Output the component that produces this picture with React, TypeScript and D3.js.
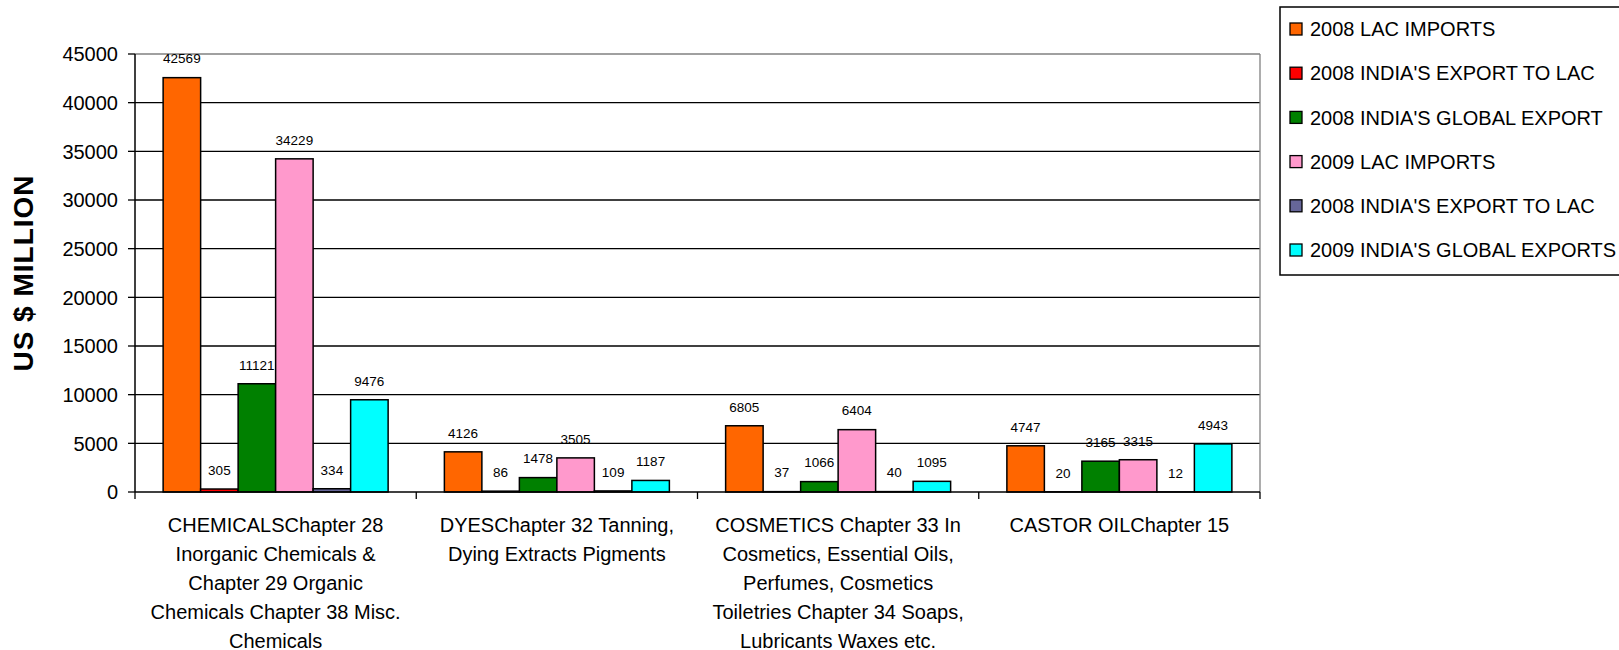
import React from "react";
import * as d3 from "d3";

const categories: string[][] = [
  ["CHEMICALSChapter 28", "Inorganic Chemicals &", "Chapter 29 Organic", "Chemicals Chapter 38 Misc.", "Chemicals"],
  ["DYESChapter 32 Tanning,", "Dying Extracts Pigments"],
  ["COSMETICS Chapter 33 In", "Cosmetics, Essential Oils,", "Perfumes, Cosmetics", "Toiletries Chapter 34 Soaps,", "Lubricants Waxes etc."],
  ["CASTOR OILChapter 15"],
];

const seriesNames = [
  "2008 LAC IMPORTS",
  "2008 INDIA'S EXPORT TO LAC",
  "2008 INDIA'S GLOBAL EXPORT",
  "2009 LAC IMPORTS",
  "2008 INDIA'S EXPORT TO LAC",
  "2009 INDIA'S GLOBAL EXPORTS",
];

const lacImports2008 = [42569, 4126, 6805, 4747];
const indiaExportLac2008 = [305, 86, 37, 20];
const indiaGlobal2008 = [11121, 1478, 1066, 3165];
const lacImports2009 = [34229, 3505, 6404, 3315];
const indiaExportLac2008b = [334, 109, 40, 12];
const indiaGlobal2009 = [9476, 1187, 1095, 4943];

const seriesValues = [
  lacImports2008,
  indiaExportLac2008,
  indiaGlobal2008,
  lacImports2009,
  indiaExportLac2008b,
  indiaGlobal2009,
];

const colors = ["#FF6600", "#FF0000", "#008000", "#FF99CC", "#666699", "#00FFFF"];

const yTicks = [0, 5000, 10000, 15000, 20000, 25000, 30000, 35000, 40000, 45000];

const FONT = "'Liberation Sans', Arial, sans-serif";

export default function App() {
  const W = 1619;
  const H = 650;
  const left = 135;
  const right = 1260;
  const top = 54;
  const bottom = 492;

  const y = d3.scaleLinear().domain([0, 45000]).range([bottom, top]);
  const x0 = d3
    .scaleBand<number>()
    .domain(categories.map((_, i) => i))
    .range([left, right])
    .paddingInner(0.2)
    .paddingOuter(0.1);
  const x1 = d3
    .scaleBand<number>()
    .domain(seriesNames.map((_, i) => i))
    .range([0, x0.bandwidth()])
    .padding(0);
  const step = x0.step();
  const catTicks = d3.range(categories.length + 1).map((i) => left + i * step);

  return (
    <svg
      width={W}
      height={H}
      style={{ position: "absolute", left: 0, top: 0, background: "#fff" }}
      fontFamily={FONT}
    >
      <rect x={0} y={0} width={W} height={H} fill="#fff" />
      {/* gridlines */}
      {yTicks.slice(1, -1).map((t) => (
        <line key={t} x1={left} x2={right} y1={y(t)} y2={y(t)} stroke="#000" strokeWidth={1.3} />
      ))}
      {/* plot border top & right */}
      <line x1={left} x2={right} y1={y(45000)} y2={y(45000)} stroke="#808080" strokeWidth={1.3} />
      <line x1={right} x2={right} y1={top} y2={bottom} stroke="#808080" strokeWidth={1.3} />

      {/* bars */}
      {seriesValues.map((vals, s) =>
        vals.map((v, c) => {
          const bx = (x0(c) as number) + (x1(s) as number);
          return (
            <rect
              key={`b${s}-${c}`}
              x={bx}
              y={y(v)}
              width={x1.bandwidth()}
              height={bottom - y(v)}
              fill={colors[s]}
              stroke="#000"
              strokeWidth={1.5}
            />
          );
        })
      )}

      {/* data labels */}
      {seriesValues.map((vals, s) =>
        vals.map((v, c) => {
          const cx = (x0(c) as number) + (x1(s) as number) + x1.bandwidth() / 2;
          return (
            <text
              key={`l${s}-${c}`}
              x={cx}
              y={y(v) - 19 + 4.8}
              textAnchor="middle"
              fontSize={13.5}
              fill="#000"
            >
              {v}
            </text>
          );
        })
      )}

      {/* y axis */}
      <line x1={left} x2={left} y1={top} y2={bottom} stroke="#000" strokeWidth={1.5} />
      {yTicks.map((t) => (
        <g key={`yt${t}`}>
          <line x1={left - 7} x2={left} y1={y(t)} y2={y(t)} stroke="#000" strokeWidth={1.3} />
          <text x={118} y={y(t)} dy="0.36em" textAnchor="end" fontSize={20} fill="#000">
            {t}
          </text>
        </g>
      ))}

      {/* x axis */}
      <line x1={left} x2={right} y1={bottom} y2={bottom} stroke="#000" strokeWidth={1.5} />
      {catTicks.map((tx, i) => (
        <line key={`xt${i}`} x1={tx} x2={tx} y1={bottom} y2={bottom + 7} stroke="#000" strokeWidth={1.3} />
      ))}
      {categories.map((lines, c) => {
        const cx = (x0(c) as number) + x0.bandwidth() / 2;
        return (
          <text key={`cat${c}`} textAnchor="middle" fontSize={20} fill="#000">
            {lines.map((ln, k) => (
              <tspan key={k} x={cx} y={531.5 + k * 29}>
                {ln}
              </tspan>
            ))}
          </text>
        );
      })}

      {/* y title */}
      <text
        transform={`translate(33, ${(top + bottom) / 2}) rotate(-90)`}
        textAnchor="middle"
        fontSize={28}
        fontWeight="bold"
        letterSpacing={1}
        fill="#000"
      >
        US $ MILLION
      </text>

      {/* legend */}
      <rect x={1280} y={7} width={360} height={268} fill="#fff" stroke="#000" strokeWidth={1.5} />
      {seriesNames.map((name, s) => {
        const cy = 29 + s * 44.2;
        return (
          <g key={`lg${s}`}>
            <rect x={1290} y={cy - 6} width={12} height={12} fill={colors[s]} stroke="#000" strokeWidth={1.3} />
            <text x={1310} y={cy} dy="0.36em" fontSize={20} fill="#000">
              {name}
            </text>
          </g>
        );
      })}
    </svg>
  );
}
